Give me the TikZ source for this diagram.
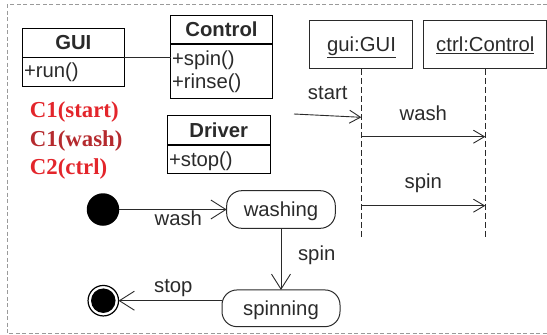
\documentclass[tikz,border=0pt]{standalone}
\usepackage{fontspec}
\setmainfont{Liberation Sans}
\newfontfamily\redfont{Liberation Serif}
\usetikzlibrary{arrows.meta}
\definecolor{ink}{HTML}{2A2A2A}
\definecolor{frame}{HTML}{9A9A9A}
\definecolor{hotred}{HTML}{E3252B}
\definecolor{darkred}{HTML}{B52A2E}
\tikzset{
  txt/.style={text=ink, inner sep=0, outer sep=0, font=\fontsize{20.3}{24}\selectfont},
  bold/.style={txt, font=\fontsize{20.3}{24}\selectfont\bfseries},
  classbox/.style={draw=black, line width=1.1pt, inner sep=0, outer sep=0},
  objbox/.style={draw=ink, line width=1pt, inner sep=0, outer sep=0},
  statebox/.style={draw=ink, line width=1pt, rounded corners=15pt, inner sep=0, outer sep=0},
  divider/.style={draw=black, line width=1.1pt},
  lifeline/.style={draw=ink, line width=0.9pt, dash pattern=on 6pt off 3pt},
  seqmsg/.style={draw=ink, line width=0.9pt, -{Straight Barb[length=11pt,width=13pt]}},
  transition/.style={draw=ink, line width=0.9pt, -{Straight Barb[length=15pt,width=19pt]}},
  redlbl/.style={inner sep=0, outer sep=0, anchor=base west, font=\fontsize{22.8}{26}\redfont\bfseries},
}
\begin{document}
\begin{tikzpicture}[x=1pt,y=-1pt]
\useasboundingbox (0,0) rectangle (547,335);
\clip (0,0) rectangle (547,335);

% dashed frame (open on the right)
\draw[frame, line width=0.9pt, dash pattern=on 4pt off 2.5pt]
  (560,4.5) -- (7,4.5) -- (7,333) -- (560,333);

% ---- class diagram ----
\node[classbox, minimum width=102, minimum height=58.4] (gui) at (73.3,57.5) {};
\draw[divider] (gui.west |- 0,57.3) -- (gui.east |- 0,57.3);
\node[bold, anchor=base] (guiname) at (73.3,49) {GUI};
\node[txt, anchor=base west] (guiop) at (24,77.5) {+run()};

\node[classbox, minimum width=101.5, minimum height=82.6] (control) at (221.5,57) {};
\draw[divider] (control.west |- 0,44) -- (control.east |- 0,44);
\node[bold, anchor=base] (controlname) at (221.5,36) {Control};
\node[txt, anchor=base west] (spinop) at (172,65) {+spin()};
\node[txt, anchor=base west] (rinseop) at (172,88) {+rinse()};

\draw[ink, line width=1pt] (gui.east) -- (gui.east -| control.west);

\node[classbox, minimum width=102.7, minimum height=57.6] (driver) at (218.7,144.5) {};
\draw[divider] (driver.west |- 0,145) -- (driver.east |- 0,145);
\node[bold, anchor=base] (drivername) at (218.7,137.5) {Driver};
\node[txt, anchor=base west] (stopop) at (169,166) {+stop()};

% ---- red notes ----
\node[redlbl, text=hotred] (n1) at (30,117.7) {C1(start)};
\node[redlbl, text=darkred] (n2) at (30,146.5) {C1(wash)};
\node[redlbl, text=hotred] (n3) at (30,174) {C2(ctrl)};

% ---- sequence diagram ----
\node[objbox, minimum width=102.7, minimum height=48.3] (guiobj) at (361.3,44.8) {};
\node[txt, anchor=base] (guiobjname) at (361.5,51.7) {\underline{gui:GUI}};
\node[objbox, minimum width=122.7, minimum height=48.3] (ctrlobj) at (485.3,44.8) {};
\node[txt, anchor=base] (ctrlobjname) at (485.3,51.7) {\underline{ctrl:Control}};

\coordinate (guiend) at (guiobj.south |- 0,236.7);
\coordinate (ctrlend) at (ctrlobj.south |- 0,236.7);
\draw[lifeline] (guiobj.south) -- (guiend);
\draw[lifeline] (ctrlobj.south) -- (ctrlend);

\coordinate (startsrc) at (294,114);
\coordinate (startdst) at (guiobj.south |- 0,117.3);
\draw[seqmsg] (startsrc) -- (startdst);
\node[txt, anchor=base] (startlbl) at (327.7,99.3) {start};

\coordinate (washsrc) at (guiobj.south |- 0,136.7);
\coordinate (washdst) at (ctrlobj.south |- 0,136.7);
\draw[seqmsg] (washsrc) -- (washdst);
\node[txt, anchor=base] (washlbl) at (423.3,120) {wash};

\coordinate (spinsrc) at (guiobj.south |- 0,205.7);
\coordinate (spindst) at (ctrlobj.south |- 0,205.7);
\draw[seqmsg] (spinsrc) -- (spindst);
\node[txt, anchor=base] (spinlbl) at (423.3,188.3) {spin};

% ---- state machine ----
\node[circle, fill=black, minimum size=32.5, inner sep=0, outer sep=0] (init) at (103,209.5) {};
\node[statebox, minimum width=108.6, minimum height=37.6] (washing) at (281,209.5) {};
\node[txt, anchor=base] (washingtxt) at (281,216) {washing};
\node[statebox, minimum width=118, minimum height=36.7] (spinning) at (281,308.3) {};
\node[txt, anchor=base] (spinningtxt) at (281,315) {spinning};
\node[circle, draw=black, line width=1.2pt, minimum size=30.5, inner sep=0, outer sep=0] (final) at (103.3,300.7) {};
\node[circle, fill=black, minimum size=24.5, inner sep=0] (finalcore) at (final) {};

\draw[transition] (init) -- (washing);
\node[txt, anchor=base] (t1) at (178.3,225) {wash};
\draw[transition] (washing) -- (spinning);
\node[txt, anchor=base] (t2) at (316.7,260.7) {spin};
\draw[transition] (spinning.west |- final) -- (final);
\node[txt, anchor=base] (t3) at (173.3,292.7) {stop};
\end{tikzpicture}
\end{document}
